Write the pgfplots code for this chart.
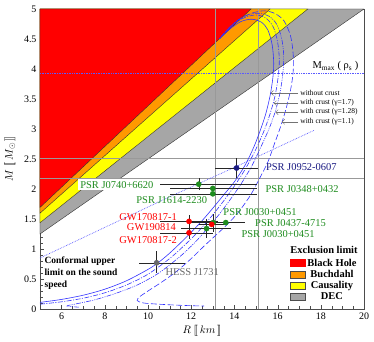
\documentclass[border=0pt]{standalone}
\usepackage{fontspec}
\setmainfont{Liberation Serif}
\usepackage{pgfplots}
\pgfplotsset{compat=1.18}
\usetikzlibrary{arrows.meta}

\definecolor{bhred}{RGB}{255,0,0}
\definecolor{buchor}{RGB}{255,153,0}
\definecolor{causye}{RGB}{255,255,0}
\definecolor{decgr}{RGB}{166,166,166}
\definecolor{eosblue}{RGB}{50,50,255}
\definecolor{dotblue}{RGB}{90,90,255}
\definecolor{pgreen}{RGB}{30,140,30}
\definecolor{pnavy}{RGB}{25,25,130}
\definecolor{hessgr}{RGB}{105,105,105}

\newcommand\lbl{\fontsize{10.5}{12}\selectfont}

\begin{document}
\begin{tikzpicture}
\begin{axis}[
    scale only axis,
    width=324bp, height=300bp,
    xmin=5, xmax=20, ymin=0, ymax=5,
    xtick={6,8,...,20},
    ytick={0,0.5,1,1.5,2,2.5,3,3.5,4,4.5,5},
    minor x tick num=3,
    minor y tick num=4,
    tick pos=left,
    tick align=inside,
    axis line style={black!70},
    tick style={black!70},
    /pgf/number format/assume math mode=true,
    ticklabel style={font=\fontsize{10}{12}\selectfont},
    xlabel={$R\ [\![\,km\,]\!]$},
    ylabel={$M\ [\![\,M_{\odot}\,]\!]$},
    label style={font=\fontsize{11}{13}\selectfont},
    xlabel style={at={(axis description cs:0.5,0)}, anchor=center, yshift=-22bp},
    ylabel style={at={(axis description cs:0,0.5)}, anchor=center, yshift=30bp},
    legend image code/.code={\draw[#1] (0bp,-3.5bp) rectangle (15bp,3.5bp);},
    legend style={draw=none, fill=none, at={(0.768,0.178)}, anchor=north west,
        font=\bfseries\fontsize{10.5}{12}\selectfont, row sep=-1.6pt, inner sep=1pt},
]

% legend entries
\addlegendimage{fill=bhred, draw=bhred}
\addlegendentry{Black Hole}
\addlegendimage{fill=buchor, draw=black!70}
\addlegendentry{Buchdahl}
\addlegendimage{fill=causye, draw=black!70}
\addlegendentry{Causality}
\addlegendimage{fill=decgr, draw=black!70}
\addlegendentry{DEC}

% exclusion regions
\addplot[fill=decgr, draw=black!80, line width=0.4pt] coordinates {(5,1.25) (20,5) (5,5)} -- cycle;
\addplot[fill=causye, draw=black!80, line width=0.4pt] coordinates {(5,1.437) (17.4,5) (5,5)} -- cycle;
\addplot[fill=buchor, draw=black!80, line width=0.4pt] coordinates {(5,1.597) (15.65,5) (5,5)} -- cycle;
\addplot[fill=bhred, draw=black!80, line width=0.4pt] coordinates {(5,1.693) (14.77,5) (5,5)} -- cycle;

% PSR J0952-0607 bounds
\addplot[black!40, line width=0.5pt] coordinates {(5,2.52) (20,2.52)};
\addplot[black!40, line width=0.5pt] coordinates {(5,2.18) (20,2.18)};
\addplot[black!40, line width=0.5pt] coordinates {(13.1,0) (13.1,5)};
\addplot[black!40, line width=0.5pt] coordinates {(15.12,0) (15.12,5)};

% M_max(rho_s)
\addplot[dotblue, densely dotted, line width=0.7pt] coordinates {(5,3.92) (20,3.92)};

% conformal upper limit on the sound speed
\addplot[dotblue, densely dotted, line width=0.7pt] coordinates {
    (5,0.85) (8,1.36) (11,1.87) (14,2.36) (17.7,2.98)};

% without crust
\addplot[eosblue, line width=0.6pt, smooth] coordinates {
    (5,0.11) (6,0.16) (7,0.23) (8,0.33) (9,0.47) (10,0.66) (10.5,0.78)
    (11,0.93) (11.5,1.1) (12,1.28) (12.5,1.47) (13,1.68) (13.5,1.9)
    (14,2.12) (14.5,2.4) (14.9,2.7) (15.2,2.98) (15.45,3.25) (15.65,3.55)
    (15.78,3.85) (15.82,4.1) (15.75,4.4) (15.55,4.65) (15.25,4.78)
    (14.8,4.83) (14.3,4.79) (13.8,4.67) (13.3,4.5)};

% with crust gamma=1.7
\addplot[eosblue, line width=0.6pt, smooth, dash pattern=on 5pt off 1.5pt on 1pt off 1.5pt] coordinates {
    (5,0.08) (6,0.12) (7,0.18) (8,0.27) (9,0.4) (10,0.58) (11,0.84)
    (11.8,1.1) (12.4,1.32) (13,1.57) (13.5,1.8) (14,2.05) (14.5,2.33)
    (14.95,2.63) (15.35,2.95) (15.65,3.25) (15.88,3.55) (16.02,3.85)
    (16.08,4.15) (16.0,4.45) (15.8,4.7) (15.45,4.85) (15.0,4.9)
    (14.5,4.86) (14.0,4.76) (13.6,4.62) (13.3,4.5)};

% with crust gamma=1.28
\addplot[eosblue, line width=0.6pt, smooth, dash pattern=on 5pt off 1.2pt on 1pt off 1.2pt on 1pt off 1.2pt] coordinates {
    (6.8,0.03) (6.25,0.05) (6.6,0.08) (7.5,0.15) (8.5,0.26) (9.5,0.4)
    (10.5,0.6) (11.5,0.88) (12.2,1.12) (12.7,1.32) (13.3,1.58) (13.8,1.82)
    (14.3,2.08) (14.8,2.38) (15.2,2.68) (15.6,3.0) (15.9,3.3) (16.12,3.62)
    (16.25,3.95) (16.28,4.25) (16.18,4.52) (15.95,4.75) (15.6,4.88)
    (15.1,4.93) (14.6,4.9) (14.1,4.8) (13.65,4.65) (13.3,4.5)};

% with crust gamma=1.1
\addplot[eosblue, line width=0.6pt, smooth, dash pattern=on 6pt off 2.5pt] coordinates {
    (13.3,4.5) (13.7,4.66) (14.2,4.82) (14.8,4.93) (15.4,4.97) (15.9,4.92)
    (16.3,4.8) (16.6,4.55) (16.72,4.25) (16.72,3.95) (16.6,3.65) (16.4,3.35)
    (16.15,3.05) (15.85,2.75) (15.55,2.45) (15.2,2.2) (14.75,1.9) (14.2,1.62)
    (13.7,1.42) (13.2,1.25) (12.6,1.05) (12.0,0.84) (11.3,0.62) (10.6,0.44)
    (10.0,0.3) (9.6,0.2) (9.5,0.14) (9.8,0.1) (10.5,0.08) (11.3,0.065)
    (12.0,0.055) (12.6,0.05)};

% observations
\addplot[only marks, mark=*, mark size=2.6bp, mark options={fill=pgreen, draw=pgreen},
    error bars/.cd, x dir=both, x explicit, y dir=both, y explicit,
    error bar style={black!85, line width=0.5pt}, error mark options={mark size=0pt}]
    coordinates {
    (12.35,2.08) += (2.7,0.1) -= (1.79,0.1)
    (13.0,2.01) += (2.05,0.04) -= (2.0,0.04)
    (13.0,1.92) += (2.05,0.02) -= (2.0,0.02)
    (13.02,1.44) += (1.24,0.15) -= (1.06,0.15)
    (13.6,1.44) += (0.9,0.04) -= (0.9,0.04)
    (12.71,1.34) += (1.14,0.16) -= (1.19,0.16)};

\addplot[only marks, mark=*, mark size=2.6bp, mark options={fill=bhred, draw=bhred},
    error bars/.cd, x dir=both, x explicit, y dir=both, y explicit,
    error bar style={black!85, line width=0.5pt}, error mark options={mark size=0pt}]
    coordinates {
    (11.9,1.46) += (1.35,0.1) -= (1.35,0.1)
    (11.9,1.27) += (1.1,0.1) -= (1.34,0.1)
    (12.95,1.41) += (0.6,0.03) -= (0.6,0.03)};

\addplot[only marks, mark=*, mark size=2.6bp, mark options={fill=pnavy, draw=pnavy},
    error bars/.cd, x dir=both, x explicit, y dir=both, y explicit,
    error bar style={black!85, line width=0.5pt}, error mark options={mark size=0pt}]
    coordinates {(14.1,2.35) += (1.0,0.17) -= (1.0,0.17)};

\addplot[only marks, mark=*, mark size=2.6bp, mark options={fill=hessgr, draw=hessgr},
    error bars/.cd, x dir=both, x explicit, y dir=both, y explicit,
    error bar style={black!85, line width=0.5pt}, error mark options={mark size=0pt}]
    coordinates {(10.4,0.77) += (1.3,0.2) -= (0.8,0.17)};

% labels
\node[anchor=east, text=pgreen, fill=white, inner sep=2bp, font=\lbl] at (axis cs:10.35,2.07) {PSR J0740+6620};
\node[anchor=west, text=pgreen, font=\lbl] at (axis cs:9.3,1.82) {PSR J1614-2230};
\node[anchor=west, text=pgreen, font=\lbl] at (axis cs:15.28,2.0) {PSR J0348+0432};
\node[anchor=west, text=pnavy, font=\lbl] at (axis cs:15.3,2.36) {PSR J0952-0607};
\node[anchor=west, text=pgreen, font=\lbl] at (axis cs:13.33,1.62) {PSR J0030+0451};
\node[anchor=west, text=pgreen, font=\lbl] at (axis cs:14.8,1.43) {PSR J0437-4715};
\node[anchor=west, text=pgreen, font=\lbl] at (axis cs:14.17,1.25) {PSR J0030+0451};
\node[anchor=east, text=bhred, font=\lbl] at (axis cs:11.5,1.53) {GW170817-1};
\node[anchor=east, text=bhred, font=\lbl] at (axis cs:11.45,1.37) {GW190814};
\node[anchor=east, text=bhred, font=\lbl] at (axis cs:11.5,1.15) {GW170817-2};
\node[anchor=west, text=hessgr, font=\lbl] at (axis cs:10.65,0.62) {HESS J1731};

\node[anchor=north west, align=left, font=\bfseries\fontsize{9.5}{12}\selectfont]
    at (axis cs:5.05,0.92) {Conformal upper\\limit on the sound\\speed};

\node[anchor=base east, font=\fontsize{10.5}{12}\selectfont] at (axis cs:19.9,4.0)
    {M\textsubscript{max} ( ρ\textsubscript{s} )};

\node[anchor=base, font=\bfseries\fontsize{10.5}{12}\selectfont] at (axis cs:18.15,0.92) {Exclusion limit};

% curve labels with arrows
\draw[black!55, -{Straight Barb[length=2.5bp]}] (axis cs:16.95,3.6) -- (axis cs:15.68,3.6);
\draw[black!55, -{Straight Barb[length=2.5bp]}] (axis cs:16.95,3.43) -- (axis cs:15.82,3.43);
\draw[black!55, -{Straight Barb[length=2.5bp]}] (axis cs:16.95,3.28) -- (axis cs:15.9,3.28);
\draw[black!55, -{Straight Barb[length=2.5bp]}] (axis cs:16.95,3.12) -- (axis cs:16.2,3.12);
\node[anchor=west, font=\fontsize{7.5}{9}\selectfont, inner sep=1pt] at (axis cs:17.0,3.6) {without crust};
\node[anchor=west, font=\fontsize{7.5}{9}\selectfont, inner sep=1pt] at (axis cs:17.0,3.43) {with crust (γ=1.7)};
\node[anchor=west, font=\fontsize{7.5}{9}\selectfont, inner sep=1pt] at (axis cs:17.0,3.28) {with crust (γ=1.28)};
\node[anchor=west, font=\fontsize{7.5}{9}\selectfont, inner sep=1pt] at (axis cs:17.0,3.12) {with crust (γ=1.1)};

\end{axis}
\pgfresetboundingbox
\path ([xshift=-40bp,yshift=-33bp]current axis.south west) rectangle ([xshift=10bp,yshift=9bp]current axis.north east);
\end{tikzpicture}
\end{document}
